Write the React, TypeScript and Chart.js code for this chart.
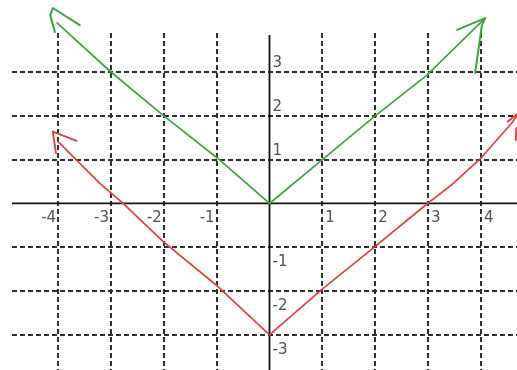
import React, { useEffect, useRef } from 'react';
import { Chart, registerables } from 'chart.js';

Chart.register(...registerables);

// Tick values / labels
const xTickValues = [-4, -3, -2, -1, 1, 2, 3, 4];
const xTickLabels = ['-4', '-3', '-2', '-1', '1', '2', '3', '4'];
const yTickValues = [3, 2, 1, -1, -2, -3];
const yTickLabels = ['3', '2', '1', '-1', '-2', '-3'];

// Green curve y = |x| (hand drawn)
const greenX = [-4.02, -3, -2, -1, 0, 1, 2, 2.98, 4.08];
const greenY = [4.12, 3, 2, 1.05, 0, 1, 2, 2.93, 4.23];
// Green arrowheads
const greenArrowLeftX = [-3.59, -4.1, -4.15, -4.06];
const greenArrowLeftY = [4.07, 4.46, 4.3, 3.91];
const greenArrowRightX = [3.55, 4.08, 4.02, 3.89];
const greenArrowRightY = [3.96, 4.23, 4.07, 2.98];

// Red curve y = |x| - 3 (hand drawn)
const redX = [-4.0, -3.21, -2.77, -2.01, -1.01, 0, 0.98, 1.99, 2.99, 3.44, 3.98, 4.58, 4.7];
const redY = [1.41, 0.46, 0, -0.87, -1.86, -3, -1.97, -0.99, 0, 0.42, 1.01, 1.83, 2.03];
// Red arrowheads
const redArrowLeftX = [-3.65, -4.1, -4.04];
const redArrowLeftY = [1.43, 1.64, 1.15];
const redArrowRightAX = [4.51, 4.71];
const redArrowRightAY = [1.87, 2.06];
const redArrowRightBX = [4.67, 4.66];
const redArrowRightBY = [1.72, 1.45];

const toPoints = (xs: number[], ys: number[]) => xs.map((x, i) => ({ x, y: ys[i] }));

const GREEN = '#3aa63a';
const RED = '#e0403c';

export default function App() {
  const canvasRef = useRef<HTMLCanvasElement | null>(null);

  useEffect(() => {
    const canvas = canvasRef.current;
    if (!canvas) return;

    const line = (data: { x: number; y: number }[], color: string, width: number) => ({
      data,
      borderColor: color,
      backgroundColor: color,
      borderWidth: width,
      showLine: true,
      pointRadius: 0,
      tension: 0,
      fill: false,
      clip: false as const,
      borderCapStyle: 'round' as const,
      borderJoinStyle: 'round' as const,
    });

    const axesPlugin = {
      id: 'axesAndLabels',
      beforeDatasetsDraw(chart: any) {
        const { ctx, chartArea, scales } = chart;
        const xs = scales.x;
        const ys = scales.y;
        const x0 = xs.getPixelForValue(0);
        const y0 = ys.getPixelForValue(0);
        ctx.save();
        ctx.strokeStyle = '#111';
        ctx.lineWidth = 1.8;
        ctx.beginPath();
        ctx.moveTo(chartArea.left, y0);
        ctx.lineTo(chartArea.right, y0);
        ctx.moveTo(x0, chartArea.top + 2);
        ctx.lineTo(x0, chartArea.bottom);
        ctx.stroke();

        ctx.font = '15px "DejaVu Sans"';
        ctx.fillStyle = '#505050';
        ctx.textBaseline = 'middle';
        xTickValues.forEach((v, i) => {
          const px = xs.getPixelForValue(v);
          if (v < 0) {
            ctx.textAlign = 'right';
            ctx.fillText(xTickLabels[i], px - 2, y0 + 15);
          } else {
            ctx.textAlign = 'left';
            ctx.fillText(xTickLabels[i], px + 3, y0 + 15);
          }
        });
        yTickValues.forEach((v, i) => {
          const py = ys.getPixelForValue(v);
          ctx.textAlign = 'left';
          ctx.fillText(yTickLabels[i], x0 + 3, v > 0 ? py - 9 : py + 15);
        });
        ctx.restore();
      },
    };

    const gridColor = (c: any) => (c.tick && c.tick.value === 0 ? 'rgba(0,0,0,0)' : '#2e2e2e');

    const chart = new Chart(canvas, {
      type: 'scatter',
      data: {
        datasets: [
          line(toPoints(redX, redY), RED, 1.7),
          line(toPoints(redArrowLeftX, redArrowLeftY), RED, 1.9),
          line(toPoints(redArrowRightAX, redArrowRightAY), RED, 1.9),
          line(toPoints(redArrowRightBX, redArrowRightBY), RED, 1.9),
          line(toPoints(greenX, greenY), GREEN, 1.7),
          line(toPoints(greenArrowLeftX, greenArrowLeftY), GREEN, 2),
          line(toPoints(greenArrowRightX, greenArrowRightY), GREEN, 2),
        ],
      },
      options: {
        animation: false,
        responsive: false,
        devicePixelRatio: 1,
        layout: { padding: { left: 12, top: 33, right: 0, bottom: 0 } },
        plugins: {
          legend: { display: false },
          tooltip: { enabled: false },
          title: { display: false },
        },
        scales: {
          x: {
            type: 'linear',
            min: -4.872,
            max: 4.683,
            ticks: { display: false, stepSize: 1, includeBounds: false },
            grid: { drawTicks: false, color: gridColor, lineWidth: 2 },
            border: { display: false, dash: [5, 3] },
          },
          y: {
            type: 'linear',
            min: -3.8,
            max: 3.89,
            ticks: { display: false, stepSize: 1, includeBounds: false },
            grid: { drawTicks: false, color: gridColor, lineWidth: 2 },
            border: { display: false, dash: [5, 3] },
          },
        },
      },
      plugins: [axesPlugin],
    });

    return () => chart.destroy();
  }, []);

  return (
    <div style={{ position: 'absolute', left: 0, top: 0, width: 517, height: 370, background: '#fff' }}>
      <canvas ref={canvasRef} width={517} height={370} style={{ display: 'block' }} />
    </div>
  );
}
